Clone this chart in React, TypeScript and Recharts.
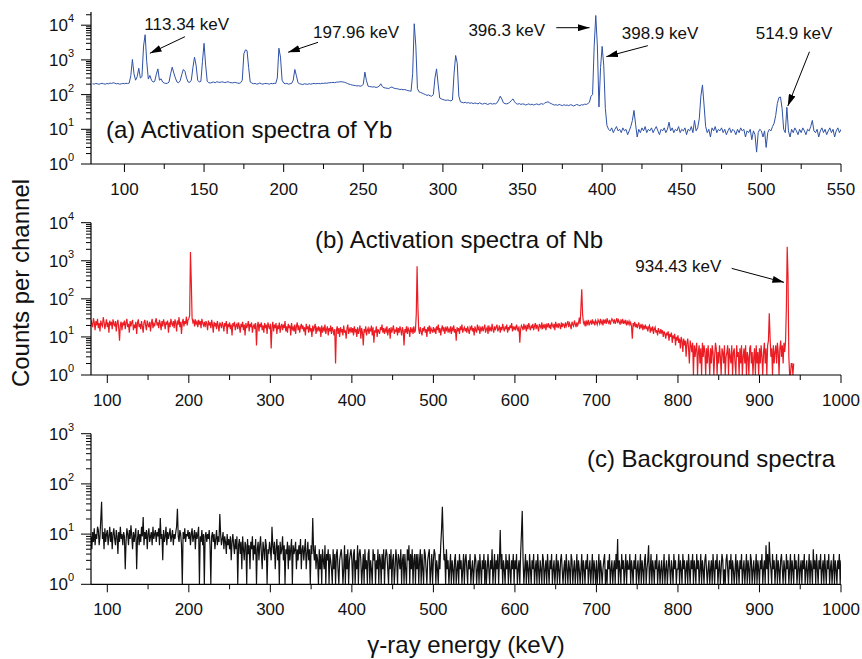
import { LineChart, Line, XAxis, YAxis, ReferenceLine } from "recharts";

const FONT = "Arial, 'Liberation Sans', Helvetica, sans-serif";

// (a) Yb activation spectrum, one point per keV from 80 keV
const startYb = 80;
const countsYb = [
  205, 200, 210, 205, 198, 207, 212, 204, 200, 208,
  205, 215, 210, 220, 212, 205, 208, 200, 204, 210,
  206, 212, 208, 215, 350, 1030, 400, 260, 330, 575,
  300, 330, 2500, 5300, 900, 280, 355, 260, 230, 240,
  380, 550, 260, 285, 230, 215, 210, 212, 230, 400,
  615, 420, 300, 230, 220, 250, 380, 530, 470, 300,
  230, 225, 260, 600, 1200, 700, 260, 230, 240, 900,
  3000, 700, 240, 220, 215, 225, 230, 220, 235, 228,
  225, 232, 230, 222, 228, 235, 225, 220, 218, 225,
  222, 215, 210, 220, 260, 1500, 1950, 1850, 600, 230,
  215, 205, 210, 200, 205, 215, 205, 200, 208, 210,
  205, 200, 210, 205, 212, 208, 300, 2170, 1200, 260,
  215, 205, 210, 200, 205, 210, 260, 530, 350, 220,
  205, 200, 195, 205, 200, 198, 205, 200, 205, 210,
  205, 208, 210, 205, 212, 210, 215, 212, 218, 220,
  222, 225, 220, 228, 230, 232, 235, 232, 228, 220,
  210, 200, 195, 188, 185, 182, 178, 180, 175, 178,
  200, 445, 250, 175, 170, 168, 165, 168, 160, 165,
  175, 205, 170, 158, 155, 152, 150, 160, 165, 155,
  150, 148, 145, 140, 142, 138, 140, 135, 130, 128,
  125, 400, 11000, 2500, 150, 120, 115, 110, 105, 100,
  95, 98, 92, 90, 100, 300, 550, 200, 80, 75,
  72, 70, 68, 70, 68, 66, 70, 400, 1340, 800,
  90, 62, 60, 58, 60, 57, 59, 56, 58, 55,
  57, 56, 54, 58, 55, 53, 56, 55, 52, 54,
  56, 53, 55, 54, 58, 70, 90, 75, 58, 55,
  54, 56, 60, 68, 75, 62, 55, 53, 55, 52,
  54, 53, 50, 52, 54, 51, 53, 50, 52, 54,
  51, 53, 55, 52, 58, 60, 62, 58, 55, 52,
  50, 51, 49, 52, 50, 48, 51, 49, 50, 48,
  51, 50, 47, 49, 52, 50, 48, 51, 50, 53,
  52, 55, 60, 90, 100, 2500, 19000, 2500, 44, 600,
  2450, 700, 40, 13, 10, 9, 11, 8, 10, 12,
  9, 10, 8, 11, 9, 10, 7, 9, 12, 18,
  35, 14, 6, 10, 8, 11, 9, 12, 8, 10,
  9, 11, 8, 10, 12, 9, 7, 10, 9, 11,
  8, 10, 16, 9, 11, 8, 10, 9, 12, 8,
  10, 9, 11, 7, 10, 9, 12, 8, 18, 9,
  11, 20, 90, 190, 50, 12, 8, 10, 6, 11,
  9, 12, 8, 10, 9, 11, 8, 10, 7, 9,
  11, 8, 10, 9, 7, 10, 8, 11, 9, 10,
  6, 9, 8, 10, 5, 9, 7, 2.2, 8, 10,
  9, 6, 9, 3, 8, 10, 9, 12, 15, 25,
  55, 82, 85, 40, 10, 8, 43, 9, 6, 10,
  8, 11, 9, 7, 10, 8, 11, 9, 7, 10,
  9, 12, 18, 9, 8, 10, 6, 9, 11, 8,
  10, 7, 9, 11, 8, 10, 6, 9, 11, 8,
  10,
];

// (b) Nb activation spectrum, 1 keV per point, one row per 20 keV from 80 keV (nothing above 942)
const startNb = 80;
const countsNb = [
  [28, 22, 18, 31, 24, 15, 26, 20, 30, 17, 23, 14, 27, 21, 19, 33, 25, 16, 22, 29],
  [18, 24, 13, 27, 20, 25, 16, 29, 22, 19, 26, 14, 23, 28, 17, 8, 21, 25, 15, 24],
  [20, 27, 16, 23, 30, 18, 22, 13, 26, 19, 24, 28, 15, 21, 17, 25, 12, 23, 29, 18],
  [22, 16, 26, 19, 13, 24, 28, 20, 15, 27, 21, 18, 25, 14, 23, 30, 17, 22, 19, 26],
  [31, 20, 24, 17, 28, 22, 15, 26, 19, 29, 23, 16, 25, 21, 27, 13, 24, 18, 30, 22],
  [20, 26, 17, 29, 23, 14, 27, 21, 33, 18, 25, 12, 24, 30, 19, 26, 22, 34, 20, 28],
  [30, 36, 1700, 300, 31, 24, 27, 19, 29, 22, 25, 18, 28, 21, 26, 17, 30, 23, 20, 25],
  [18, 26, 22, 15, 27, 20, 24, 17, 28, 21, 13, 25, 19, 23, 16, 26, 20, 14, 24, 21],
  [17, 25, 20, 14, 23, 19, 26, 12, 22, 18, 24, 16, 21, 11, 23, 19, 25, 15, 20, 22],
  [16, 24, 19, 13, 22, 18, 25, 15, 21, 11, 23, 17, 20, 26, 14, 22, 18, 24, 13, 19],
  [21, 16, 23, 6, 19, 25, 14, 22, 18, 24, 15, 20, 13, 23, 17, 21, 12, 24, 19, 16],
  [22, 5, 18, 25, 14, 21, 17, 23, 12, 20, 16, 24, 13, 19, 22, 15, 21, 17, 26, 14],
  [19, 13, 22, 17, 20, 11, 23, 16, 18, 14, 21, 12, 19, 24, 15, 20, 13, 18, 22, 16],
  [20, 14, 18, 11, 22, 16, 19, 13, 21, 15, 17, 10, 20, 14, 18, 22, 12, 17, 15, 19],
  [14, 18, 10, 20, 13, 17, 15, 21, 12, 16, 19, 11, 17, 14, 20, 12, 18, 15, 11, 16],
  [2, 15, 19, 12, 17, 10, 18, 14, 16, 11, 20, 13, 15, 9, 17, 21, 12, 16, 14, 18],
  [13, 17, 11, 19, 14, 16, 10, 18, 12, 15, 20, 9, 17, 13, 6, 16, 14, 19, 11, 15],
  [17, 12, 16, 14, 20, 11, 18, 7, 15, 13, 19, 10, 16, 14, 12, 18, 15, 21, 13, 17],
  [12, 16, 14, 19, 11, 15, 17, 9, 18, 13, 16, 20, 12, 15, 14, 18, 11, 17, 13, 19],
  [15, 11, 18, 14, 6, 16, 13, 19, 12, 17, 15, 10, 18, 14, 16, 12, 19, 13, 15, 40],
  [720, 60, 16, 12, 18, 14, 11, 17, 15, 19, 13, 16, 10, 18, 14, 20, 12, 17, 15, 13],
  [18, 14, 16, 12, 19, 15, 21, 13, 17, 11, 16, 20, 14, 18, 12, 17, 15, 19, 13, 16],
  [14, 19, 12, 17, 15, 20, 13, 16, 8, 18, 14, 17, 12, 19, 15, 21, 13, 16, 18, 14],
  [17, 13, 19, 15, 12, 18, 16, 20, 14, 17, 11, 19, 15, 13, 21, 16, 18, 12, 17, 15],
  [19, 14, 17, 21, 13, 16, 18, 12, 20, 15, 17, 14, 22, 16, 13, 19, 15, 18, 21, 14],
  [16, 20, 13, 18, 15, 22, 17, 14, 19, 16, 21, 13, 18, 15, 20, 17, 23, 14, 19, 16],
  [18, 15, 21, 17, 14, 19, 7, 16, 20, 18, 15, 22, 17, 19, 14, 21, 16, 23, 18, 15],
  [20, 17, 22, 15, 19, 23, 16, 21, 18, 14, 22, 19, 17, 24, 16, 20, 18, 22, 15, 21],
  [19, 23, 17, 21, 16, 24, 20, 18, 22, 15, 25, 19, 21, 17, 23, 20, 16, 24, 18, 22],
  [21, 17, 24, 19, 22, 26, 18, 23, 20, 16, 25, 21, 19, 27, 22, 18, 24, 20, 23, 32],
  [22, 60, 178, 40, 24, 21, 27, 19, 25, 22, 28, 20, 24, 26, 21, 29, 23, 25, 20, 27],
  [24, 21, 28, 25, 22, 30, 23, 26, 20, 29, 24, 27, 22, 31, 25, 23, 28, 21, 26, 30],
  [27, 24, 29, 22, 26, 31, 23, 28, 25, 21, 27, 24, 30, 22, 26, 23, 28, 20, 25, 22],
  [26, 21, 24, 19, 9, 23, 20, 25, 18, 22, 17, 21, 24, 16, 20, 18, 22, 15, 19, 17],
  [21, 16, 19, 14, 18, 20, 13, 17, 15, 19, 12, 16, 18, 13, 15, 11, 17, 14, 12, 16],
  [13, 15, 10, 14, 12, 9, 13, 11, 14, 8, 12, 10, 13, 7, 11, 9, 12, 6, 10, 8],
  [11, 7, 9, 5, 10, 8, 4, 9, 6, 8, 3, 7, 9, 5, 2, 8, 6, 4, 7, 1],
  [6, 3, 5, 7, 1, 4, 6, 2, 5, 1, 7, 3, 6, 4, 1, 5, 2, 6, 3, 1],
  [5, 2, 6, 4, 1, 3, 7, 5, 1, 4, 2, 6, 3, 1, 5, 4, 2, 6, 1, 3],
  [4, 6, 1, 5, 3, 2, 6, 1, 4, 5, 2, 1, 6, 3, 4, 1, 5, 2, 6, 1],
  [3, 5, 2, 6, 1, 4, 3, 1, 5, 6, 2, 4, 1, 3, 5, 1, 6, 2, 4, 1],
  [5, 2, 6, 3, 1, 4, 7, 2, 5, 1, 6, 8, 42, 10, 3, 5, 1, 6, 2, 4],
  [6, 2, 7, 4, 1, 5, 8, 3, 6, 2, 7, 4, 8, 60, 2340, 400, 3, 1, 1, 2],
  [2, 1, 2],
];

// (c) background spectrum, 1 keV per point, one row per 20 keV from 80 keV
const startBg = 80;
const countsBg = [
  [9, 5, 11, 7, 13, 6, 10, 8, 14, 12, 6, 9, 20, 44, 8, 11, 5, 13, 7, 10],
  [12, 6, 9, 14, 7, 11, 5, 10, 13, 8, 6, 12, 9, 4, 11, 7, 14, 8, 10, 6],
  [11, 9, 2, 7, 13, 10, 6, 12, 8, 15, 9, 5, 11, 7, 10, 13, 2, 8, 12, 6],
  [10, 7, 14, 9, 22, 6, 11, 8, 12, 5, 10, 13, 7, 9, 11, 6, 14, 8, 10, 12],
  [7, 11, 9, 13, 6, 21, 8, 10, 3, 12, 7, 9, 14, 6, 11, 8, 10, 13, 7, 9],
  [12, 6, 10, 8, 11, 14, 32, 9, 7, 12, 10, 6, 1, 11, 8, 13, 7, 10, 9, 12],
  [8, 11, 6, 10, 13, 7, 9, 12, 5, 11, 8, 10, 14, 1, 9, 7, 12, 6, 10, 1],
  [9, 11, 7, 10, 8, 12, 6, 1, 9, 11, 7, 10, 5, 8, 12, 6, 9, 7, 25, 10],
  [6, 8, 11, 5, 9, 7, 4, 10, 6, 8, 5, 9, 3, 7, 10, 6, 4, 8, 5, 9],
  [1, 6, 8, 4, 7, 2, 9, 5, 3, 7, 6, 1, 8, 4, 6, 2, 7, 5, 9, 3],
  [6, 4, 8, 1, 5, 7, 3, 6, 9, 4, 2, 7, 5, 3, 8, 6, 1, 5, 4, 7],
  [5, 3, 14, 6, 4, 7, 2, 5, 8, 3, 6, 1, 7, 4, 5, 9, 3, 6, 1, 5],
  [4, 7, 2, 6, 3, 5, 8, 1, 6, 4, 5, 7, 2, 5, 3, 6, 4, 8, 2, 5],
  [6, 3, 5, 8, 2, 4, 7, 3, 5, 1, 6, 4, 21, 5, 3, 6, 2, 4, 3, 1],
  [5, 2, 4, 1, 5, 3, 2, 6, 1, 4, 3, 5, 1, 4, 3, 2, 1, 5, 2, 4],
  [1, 4, 5, 2, 1, 3, 4, 5, 3, 1, 2, 6, 1, 4, 2, 5, 1, 3, 4, 5],
  [3, 1, 4, 5, 1, 3, 2, 6, 1, 4, 5, 3, 1, 2, 4, 1, 5, 2, 3, 1],
  [4, 5, 1, 3, 2, 1, 5, 3, 4, 1, 3, 2, 5, 1, 4, 3, 1, 4, 2, 5],
  [1, 3, 5, 4, 2, 1, 4, 2, 5, 1, 3, 4, 1, 2, 5, 3, 1, 4, 3, 2],
  [5, 1, 3, 4, 1, 4, 2, 1, 5, 3, 6, 1, 4, 2, 5, 1, 3, 4, 1, 4],
  [2, 4, 1, 3, 5, 1, 4, 2, 1, 5, 4, 2, 1, 3, 4, 5, 1, 2, 4, 1],
  [3, 5, 4, 1, 3, 2, 1, 4, 2, 6, 12, 35, 9, 3, 4, 1, 5, 2, 3, 1],
  [2, 4, 1, 3, 2, 1, 3, 4, 1, 2, 3, 1, 4, 2, 3, 1, 2, 4, 1, 3],
  [4, 2, 1, 3, 2, 4, 1, 2, 3, 1, 2, 4, 3, 1, 2, 3, 1, 4, 2, 1],
  [3, 2, 4, 1, 3, 1, 2, 4, 2, 1, 3, 2, 5, 1, 2, 4, 1, 3, 2, 4],
  [1, 3, 12, 2, 4, 1, 3, 2, 1, 4, 2, 3, 1, 4, 2, 1, 3, 2, 4, 1],
  [3, 2, 4, 1, 2, 3, 1, 4, 10, 29, 3, 1, 2, 4, 1, 3, 2, 1, 4, 2],
  [1, 3, 2, 4, 1, 2, 3, 1, 4, 2, 1, 3, 2, 1, 4, 3, 1, 2, 3, 1],
  [4, 2, 1, 3, 2, 4, 1, 2, 3, 1, 2, 4, 1, 3, 2, 1, 3, 4, 2, 1],
  [2, 3, 1, 4, 2, 1, 3, 2, 1, 4, 3, 1, 2, 3, 1, 2, 4, 1, 3, 2],
  [1, 2, 4, 1, 3, 2, 1, 3, 2, 4, 1, 2, 3, 1, 2, 4, 1, 3, 2, 1],
  [3, 1, 2, 4, 1, 3, 2, 1, 2, 3, 4, 1, 2, 1, 3, 2, 4, 1, 2, 3],
  [1, 2, 3, 1, 4, 2, 8, 1, 3, 2, 1, 4, 2, 3, 1, 2, 4, 1, 3, 2],
  [2, 4, 1, 3, 2, 1, 3, 2, 4, 1, 2, 3, 1, 2, 4, 1, 3, 2, 1, 3],
  [4, 1, 2, 3, 6, 1, 2, 4, 1, 3, 2, 1, 3, 2, 4, 1, 2, 3, 1, 2],
  [3, 1, 2, 4, 1, 2, 3, 1, 2, 4, 2, 1, 3, 2, 1, 4, 2, 3, 1, 2],
  [2, 4, 1, 3, 2, 1, 4, 2, 3, 1, 2, 3, 1, 4, 2, 1, 3, 2, 4, 1],
  [3, 2, 1, 4, 2, 3, 1, 2, 4, 1, 3, 2, 1, 3, 4, 2, 1, 2, 3, 1],
  [2, 3, 1, 4, 2, 1, 3, 2, 4, 1, 2, 3, 1, 2, 4, 3, 1, 2, 1, 3],
  [4, 2, 1, 3, 2, 4, 1, 3, 2, 1, 2, 4, 1, 3, 2, 1, 3, 2, 4, 1],
  [2, 3, 1, 2, 4, 1, 3, 2, 1, 4, 3, 1, 2, 3, 1, 2, 4, 1, 3, 2],
  [1, 3, 2, 4, 1, 2, 3, 1, 6, 2, 4, 1, 7, 3, 2, 1, 4, 2, 3, 1],
  [2, 4, 1, 3, 2, 1, 3, 4, 2, 1, 3, 2, 1, 4, 2, 3, 1, 2, 4, 1],
  [3, 2, 1, 4, 2, 3, 1, 2, 4, 1, 2, 3, 1, 3, 2, 4, 1, 2, 3, 1],
  [2, 4, 1, 3, 2, 1, 5, 2, 3, 1, 4, 2, 1, 3, 2, 4, 1, 2, 3, 1],
  [4, 2, 1, 3, 2, 4, 1, 2, 3, 1, 2, 4, 1, 3, 2, 1, 3, 2, 4, 1],
  [3],
];

const ticksYbX = [100, 125, 150, 175, 200, 225, 250, 275, 300, 325, 350, 375, 400, 425, 450, 475, 500, 525, 550];
const labelsYbX = [100, 150, 200, 250, 300, 350, 400, 450, 500, 550];
const ticksWideX = [100, 150, 200, 250, 300, 350, 400, 450, 500, 550, 600, 650, 700, 750, 800, 850, 900, 950, 1000];
const labelsWideX = [100, 200, 300, 400, 500, 600, 700, 800, 900, 1000];
const mantissas = [1, 2, 3, 4, 5, 6, 7, 8, 9];
const logTicks = (decades: number, extra: number[]) => [
  ...Array.from({ length: decades }, (_, d) => mantissas.map((m) => m * Math.pow(10, d))).flat(),
  ...extra,
];
const ticksYbY = logTicks(4, [10000, 20000]);
const ticksNbY = logTicks(4, [10000]);
const ticksBgY = logTicks(3, [1000]);

const toRows = (counts: number[], start: number) =>
  counts.map((c, i) => ({ energy: start + i, counts: c }));

// each block holds 20 one-keV channels
const blocksToRows = (blocks: number[][], start: number) =>
  blocks.flatMap((block, b) => block.map((c, i) => ({ energy: start + b * 20 + i, counts: c })));

const LeftTick = (props: any) => {
  const { x, y, payload } = props;
  const exp = Math.log10(payload.value);
  const major = Math.abs(exp - Math.round(exp)) < 1e-9;
  return (
    <g>
      <line x1={x - (major ? 10 : 5)} y1={y} x2={x} y2={y} stroke="#000" strokeWidth={1} />
      {major && (
        <text x={x - 17} y={y + 6} textAnchor="end" fontSize={17} fontFamily={FONT} fill="#111">
          10
          <tspan dy={-9} fontSize={11}>
            {Math.round(exp)}
          </tspan>
        </text>
      )}
    </g>
  );
};

const RightTick = (props: any) => (
  <line x1={props.x - 4} y1={props.y} x2={props.x} y2={props.y} stroke="#000" strokeWidth={1} />
);

const TopTick = (props: any) => (
  <line x1={props.x} y1={props.y} x2={props.x} y2={props.y + 4} stroke="#000" strokeWidth={1} />
);

const makeBottomTick = (labels: number[]) => (props: any) => {
  const { x, y, payload } = props;
  const major = labels.includes(payload.value);
  return (
    <g>
      <line x1={x} y1={y} x2={x} y2={y + (major ? 8 : 5)} stroke="#000" strokeWidth={1} />
      {major && (
        <text x={x} y={y + 31} textAnchor="middle" fontSize={17} fontFamily={FONT} fill="#111">
          {payload.value}
        </text>
      )}
    </g>
  );
};

type PanelProps = {
  rows: { energy: number; counts: number }[];
  color: string;
  lineWidth: number;
  top: number;
  marginTop: number;
  plotBottom: number;
  xDomain: [number, number];
  xTicks: number[];
  xLabels: number[];
  yDomain: [number, number];
  yTicks: number[];
  children?: any;
};

const axisLine = { stroke: "#000", strokeWidth: 1.2 };

function Panel({ rows, color, lineWidth, top, marginTop, plotBottom, xDomain, xTicks, xLabels, yDomain, yTicks, children }: PanelProps) {
  const BottomTick = makeBottomTick(xLabels);
  return (
    <div style={{ position: "absolute", left: 0, top }}>
      <LineChart
        width={862}
        height={plotBottom + 40}
        data={rows}
        margin={{ top: marginTop, right: 21, bottom: 0, left: 0 }}
      >
        <XAxis
          dataKey="energy"
          type="number"
          domain={xDomain}
          allowDataOverflow
          ticks={xTicks}
          interval={0}
          height={40}
          tickSize={0}
          tickMargin={0}
          tickLine={false}
          axisLine={axisLine}
          tick={<BottomTick />}
        />
        <XAxis
          xAxisId="top"
          orientation="top"
          type="number"
          domain={xDomain}
          allowDataOverflow
          ticks={xTicks}
          interval={0}
          height={0}
          tickSize={0}
          tickMargin={0}
          tickLine={false}
          axisLine={axisLine}
          tick={<TopTick />}
        />
        <YAxis
          scale="log"
          domain={yDomain}
          allowDataOverflow
          ticks={yTicks}
          interval={0}
          width={91}
          tickSize={0}
          tickMargin={0}
          tickLine={false}
          axisLine={axisLine}
          tick={<LeftTick />}
        />
        <YAxis
          yAxisId="right"
          orientation="right"
          scale="log"
          domain={yDomain}
          allowDataOverflow
          ticks={yTicks}
          interval={0}
          width={0}
          tickSize={0}
          tickMargin={0}
          tickLine={false}
          axisLine={axisLine}
          tick={<RightTick />}
        />
        <Line
          type="linear"
          dataKey="counts"
          stroke={color}
          strokeWidth={lineWidth}
          dot={false}
          isAnimationActive={false}
        />
        {children}
      </LineChart>
    </div>
  );
}

const arrow = { stroke: "#000", strokeWidth: 1, markerEnd: "url(#arrowHead)" } as any;

export default function App() {
  const txt = { fontFamily: FONT, fill: "#111" };
  return (
    <div style={{ position: "absolute", left: 0, top: 0, width: 862, height: 659, background: "#fff" }}>
      <Panel
        rows={toRows(countsYb, startYb)}
        color="#2f52a6"
        lineWidth={1}
        top={0}
        marginTop={12}
        plotBottom={164}
        xDomain={[79, 550]}
        xTicks={ticksYbX}
        xLabels={labelsYbX}
        yDomain={[1, 24000]}
        yTicks={ticksYbY}
      >
        <ReferenceLine segment={[{ x: 138, y: 4660 }, { x: 116, y: 1550 }]} {...arrow} />
        <ReferenceLine segment={[{ x: 221.6, y: 3210 }, { x: 202.8, y: 1660 }]} {...arrow} />
        <ReferenceLine segment={[{ x: 371.2, y: 8470 }, { x: 392.1, y: 8470 }]} {...arrow} />
        <ReferenceLine segment={[{ x: 428.7, y: 2570 }, { x: 402.6, y: 1240 }]} {...arrow} />
        <ReferenceLine segment={[{ x: 530.2, y: 1720 }, { x: 516.6, y: 47 }]} {...arrow} />
      </Panel>
      <Panel
        rows={blocksToRows(countsNb, startNb)}
        color="#ec1c24"
        lineWidth={1.2}
        top={200}
        marginTop={22.7}
        plotBottom={175}
        xDomain={[80, 1000]}
        xTicks={ticksWideX}
        xLabels={labelsWideX}
        yDomain={[1, 10000]}
        yTicks={ticksNbY}
      >
        <ReferenceLine segment={[{ x: 865.9, y: 631 }, { x: 930.1, y: 271 }]} {...arrow} />
      </Panel>
      <Panel
        rows={blocksToRows(countsBg, startBg)}
        color="#111111"
        lineWidth={1.2}
        top={410}
        marginTop={23.7}
        plotBottom={174.3}
        xDomain={[80, 1000]}
        xTicks={ticksWideX}
        xLabels={labelsWideX}
        yDomain={[1, 1000]}
        yTicks={ticksBgY}
      />
      <svg
        width={862}
        height={659}
        style={{ position: "absolute", left: 0, top: 0, pointerEvents: "none" }}
      >
        <defs>
          <marker
            id="arrowHead"
            viewBox="0 0 10 6"
            refX={10}
            refY={3}
            markerWidth={12}
            markerHeight={7}
            markerUnits="userSpaceOnUse"
            orient="auto"
          >
            <path d="M0,0 L10,3 L0,6 z" fill="#000" />
          </marker>
        </defs>
        <g fontSize={17} {...txt} textAnchor="middle">
          <text x={186.7} y={30}>113.34 keV</text>
          <text x={356} y={37.5}>197.96 keV</text>
          <text x={506.7} y={36}>396.3 keV</text>
          <text x={660} y={38.5}>398.9 keV</text>
          <text x={794} y={38.5}>514.9 keV</text>
          <text x={678.3} y={271.5}>934.43 keV</text>
        </g>
        <g fontSize={24} {...txt}>
          <text x={106} y={138}>(a) Activation spectra of Yb</text>
          <text x={315} y={248}>(b) Activation spectra of Nb</text>
          <text x={835} y={467} textAnchor="end">(c) Background spectra</text>
          <text x={466} y={653} textAnchor="middle">γ-ray energy (keV)</text>
          <text x={29} y={283} textAnchor="middle" transform="rotate(-90 29 283)">
            Counts per channel
          </text>
        </g>
      </svg>
    </div>
  );
}
